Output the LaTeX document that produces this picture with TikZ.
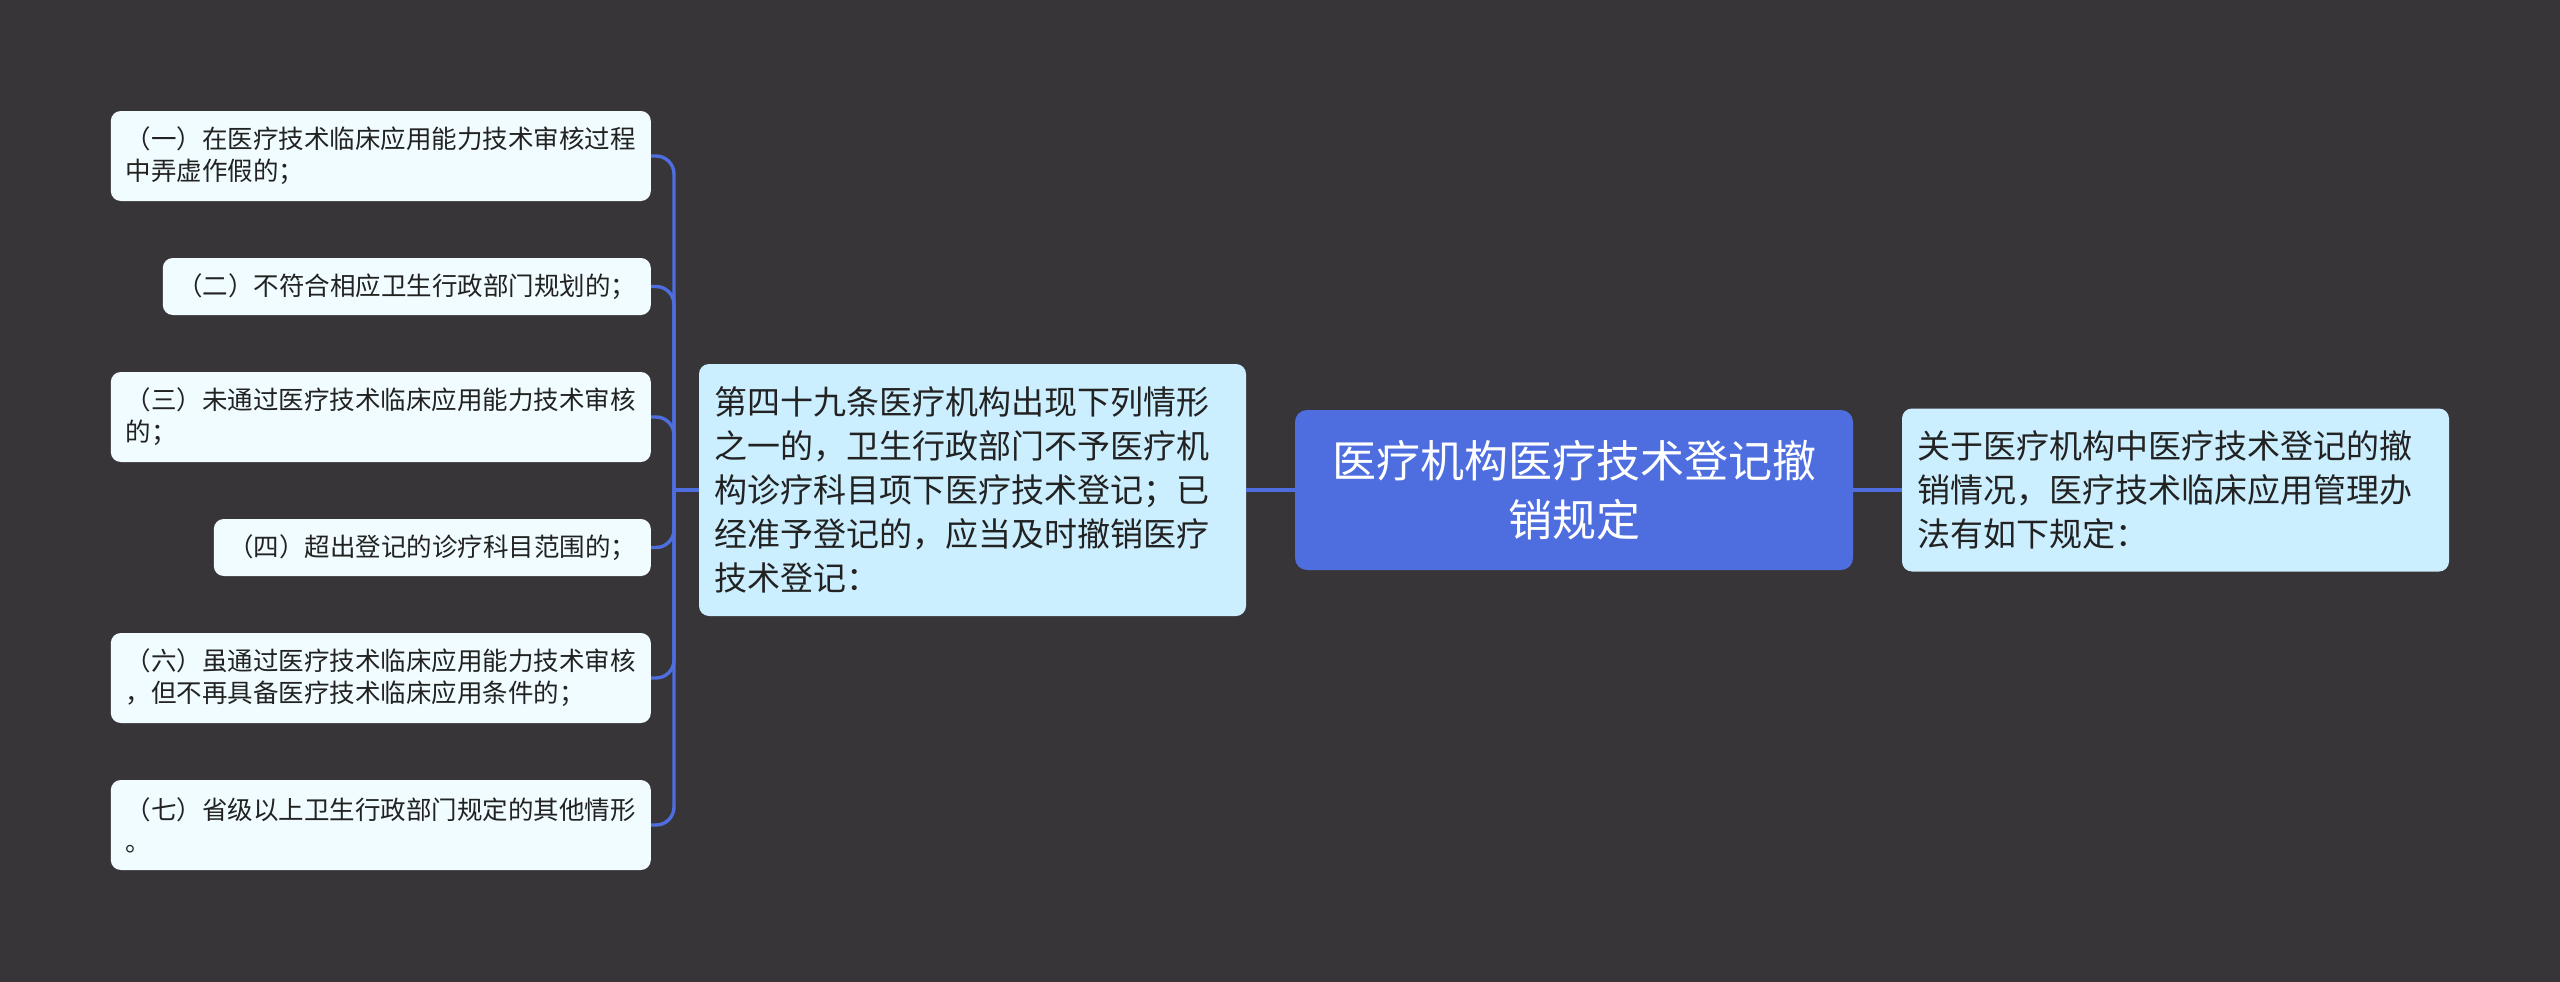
\documentclass[tikz,border=0pt]{standalone}
\usepackage{fontspec}
\setmainfont{Noto Sans CJK SC}
\usepackage{tikz}
\usetikzlibrary{positioning,calc}
\usepackage{xcolor}
\definecolor{mmbg}{RGB}{55,53,56}
\definecolor{mmblue}{RGB}{78,110,224}
\definecolor{mmlight}{RGB}{204,239,255}
\definecolor{mmleaf}{RGB}{240,252,255}
\definecolor{mmtext}{RGB}{34,34,34}
\tikzstyle{conn} = [line width=3.4pt, color=mmblue, rounded corners=18pt]
\tikzstyle{topic} = [rectangle, rounded corners=12pt, fill=mmblue, text=white, align=center, inner sep=0pt, font=\fontsize{44}{59}\selectfont]
\tikzstyle{sub} = [rectangle, rounded corners=10pt, fill=mmlight, text=mmtext, align=left, inner xsep=15pt, inner ysep=0pt, text width=517pt, font=\fontsize{33}{44}\selectfont]
\tikzstyle{leaf} = [rectangle, rounded corners=10pt, fill=mmleaf, text=mmtext, align=left, inner sep=0pt, anchor=east, font=\fontsize{25.5}{32}\selectfont]

\begin{document}
\begin{tikzpicture}[x=1pt, y=-1pt]
    % Background
    \fill[mmbg] (0,0) rectangle (2560,982);
    \useasboundingbox (0,0) rectangle (2560,982);

    % Central topic
    \node[topic, minimum width=558pt, minimum height=160pt] (root) at (1574, 490) {医疗机构医疗技术登记撤\\销规定};

    % Right branch
    \node[sub, minimum height=163pt] (note) at (2175.5, 490) {关于医疗机构中医疗技术登记的撤\\销情况，医疗技术临床应用管理办\\法有如下规定：};

    % Left branch
    \node[sub, minimum height=252pt] (rule) at (972.5, 490) {第四十九条医疗机构出现下列情形\\之一的，卫生行政部门不予医疗机\\构诊疗科目项下医疗技术登记；已\\经准予登记的，应当及时撤销医疗\\技术登记：};

    % Items
    \node[leaf, minimum width=540pt, minimum height=90pt] (item1) at (651, 156) {（一）在医疗技术临床应用能力技术审核过程\\中弄虚作假的；};
    \node[leaf, minimum width=488pt, minimum height=57pt] (item2) at (651, 286.5) {（二）不符合相应卫生行政部门规划的；};
    \node[leaf, minimum width=540pt, minimum height=90pt] (item3) at (651, 417) {（三）未通过医疗技术临床应用能力技术审核\\的；};
    \node[leaf, minimum width=437pt, minimum height=57pt] (item4) at (651, 547.5) {（四）超出登记的诊疗科目范围的；};
    \node[leaf, minimum width=540pt, minimum height=90pt] (item6) at (651, 678) {（六）虽通过医疗技术临床应用能力技术审核\\，但不再具备医疗技术临床应用条件的；};
    \node[leaf, minimum width=540pt, minimum height=90pt] (item7) at (651, 825) {（七）省级以上卫生行政部门规定的其他情形\\。};

    % Connectors
    \coordinate (fork) at (674, 490);
    \foreach \n in {item1,item2,item3,item4,item6,item7}
        \draw[conn] (\n.east) -| (fork);
    \draw[conn] (fork) -- (rule.west);
    \draw[conn] (rule.east) -- (root.west);
    \draw[conn] (root.east) -- (note.west);
\end{tikzpicture}
\end{document}
